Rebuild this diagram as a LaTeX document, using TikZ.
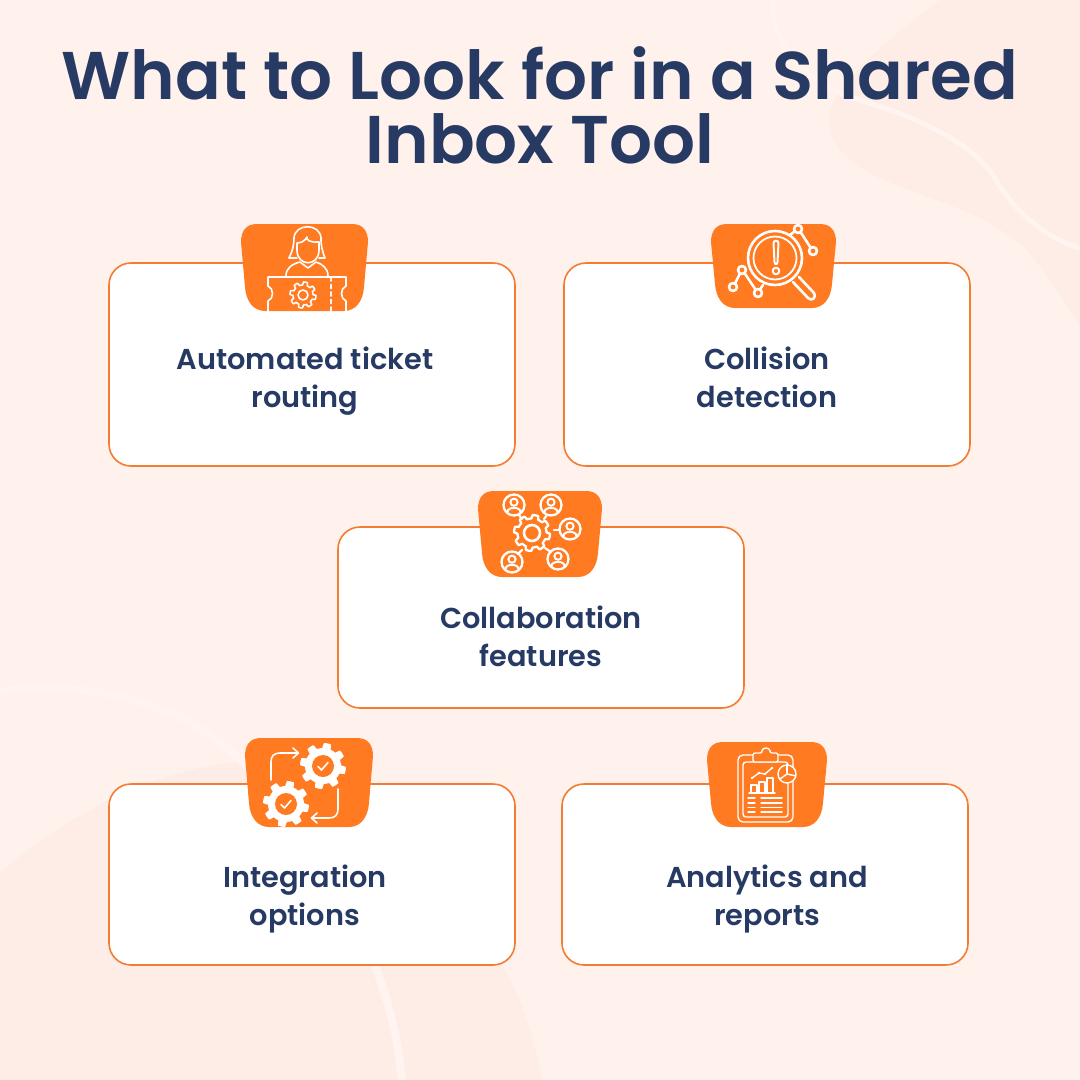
\documentclass[tikz,border=0pt]{standalone}
\usepackage{fontspec}
\setmainfont{Poppins}
\newfontfamily\semif{Poppins SemiBold}
\definecolor{bgbase}{HTML}{FFF1EC}
\definecolor{bgblob}{HTML}{FEECE6}
\definecolor{bgline}{HTML}{FFF4F0}
\definecolor{navy}{HTML}{263A63}
\definecolor{orng}{HTML}{FF7A20}
\definecolor{edge}{HTML}{F47C32}
\tikzset{
  cardbox/.style={draw=edge,line width=1.6pt,fill=white,rounded corners=22pt,inner sep=0pt,minimum width=406pt},
  cardtext/.style={text=navy,font=\fontsize{28.8}{38}\selectfont\semif,align=center,inner sep=0pt,anchor=center},
  thin ico/.style={draw=white,line width=1.6pt,line cap=round,line join=round,fill=none},
  thick ico/.style={draw=white,line width=2.6pt,line cap=round,line join=round,fill=none}
}
\newcommand{\tabblob}[4]{%
  \fill[orng] ({#1+16},#3) -- ({#2-16},#3)
   .. controls ({#2-5},#3) and (#2,{#3+7}) .. (#2,{#3+18})
   -- ({#2-4},{#4-24})
   .. controls ({#2-5},{#4-9}) and ({#2-13},#4) .. ({#2-24},#4)
   -- ({#1+24},#4)
   .. controls ({#1+13},#4) and ({#1+5},{#4-9}) .. ({#1+4},{#4-24})
   -- (#1,{#3+18})
   .. controls (#1,{#3+7}) and ({#1+5},#3) .. ({#1+16},#3) -- cycle;}
\newcommand{\gearpath}[6][]{%
  \path[#1,shift={(#2,#3)}] plot[domain=0:360,samples=145] (\x:{#4-#5*(1-min(1,max(0,0.5+1.5*sin(#6*\x))))}) -- cycle;}
\newcommand{\personico}[2]{%
  \draw[thick ico,line width=2.3pt] (#1,#2) circle (10.5);
  \draw[thick ico,line width=2pt] (#1,{#2-2.8}) circle (3.6);
  \draw[thick ico,line width=2pt] ({#1-6.5},{#2+7}) .. controls ({#1-6.5},{#2+1.5}) and ({#1+6.5},{#2+1.5}) .. ({#1+6.5},{#2+7});}
\newcommand{\checkgear}[2]{%
  \gearpath[fill=white]{#1}{#2}{23}{5}{8}
  \fill[orng] (#1,#2) circle (11);
  \draw[thick ico,line width=1.6pt] ({#1-5},{#2+0.5}) -- ({#1-1.5},{#2+4}) -- ({#1+5},{#2-3.5});}
\begin{document}
\begin{tikzpicture}[x=1pt,y=-1pt]
\useasboundingbox (0,0) rectangle (1080,1080);
\fill[bgbase] (0,0) rectangle (1080,1080);
\begin{scope}
\clip (0,0) rectangle (1080,1080);
% top right blob
\fill[bgblob] (940,0) .. controls (900,30) and (850,70) .. (832,105)
  .. controls (822,135) and (840,160) .. (880,178)
  .. controls (930,200) and (1000,215) .. (1035,260)
  .. controls (1055,285) and (1070,310) .. (1080,325) -- (1080,0) -- cycle;
\draw[bgline,line width=5pt] (773,0) .. controls (770,40) and (800,78) .. (850,97)
  .. controls (900,112) and (965,135) .. (993,175)
  .. controls (1015,215) and (1050,240) .. (1085,250);
% bottom left blob
\fill[bgblob] (0,873) .. controls (60,820) and (150,770) .. (240,762)
  .. controls (350,790) and (450,880) .. (503,967)
  .. controls (525,1005) and (535,1045) .. (543,1085) -- (0,1085) -- cycle;
\draw[bgline,line width=8pt] (-5,692) .. controls (70,680) and (170,695) .. (232,752)
  .. controls (310,820) and (395,960) .. (402,1085);
\end{scope}
% title
\node[text=navy,font=\fontsize{67.5}{64}\selectfont\semif,align=center,inner sep=0pt] (title) at (540,105.5)
  {What to Look for in a Shared\\Inbox Tool};
% cards
\node[cardbox,minimum height=203pt] (card1) at (312,364.5) {};
\node[cardbox,minimum height=203pt] (card2) at (767,364.5) {};
\node[cardbox,minimum height=181pt] (card3) at (541,617.5) {};
\node[cardbox,minimum height=181pt] (card4) at (312,874.5) {};
\node[cardbox,minimum height=181pt] (card5) at (765,874.5) {};
\node[cardtext] (text1) at (305,381) {\strut Automated ticket\\\strut routing};
\node[cardtext] (text2) at (767,381) {\strut Collision\\\strut detection};
\node[cardtext] (text3) at (541,640) {\strut Collaboration\\\strut features};
\node[cardtext] (text4) at (305,899) {\strut Integration\\\strut options};
\node[cardtext] (text5) at (767,899) {\strut Analytics and\\\strut reports};
% tabs
\tabblob{241}{368}{224}{311}
\tabblob{711}{836}{224}{308}
\tabblob{478}{602}{491}{577}
\tabblob{245}{373}{738}{827}
\tabblob{707}{827}{742}{827}
% icon 1
\begin{scope}[thin ico]
\draw (289,258) .. controls (293,250) and (294,244) .. (294,238) .. controls (295,223) and (320,223) .. (321,238) .. controls (321,246) and (322,250) .. (325,258) -- (319,258);
\draw (289,258) -- (297,258);
\draw (297,243) -- (297,250) .. controls (297,267) and (319,267) .. (319,250) -- (319,242) .. controls (312,243) and (305,240) .. (307,237) .. controls (305,241) and (301,243) .. (297,243);
\draw (286,276) .. controls (286,268) and (292,264) .. (300,262) -- (308,268) -- (316,262) .. controls (322,264) and (328,268) .. (328,276);
\draw (268,311) -- (268,301) .. controls (274,299) and (274,288) .. (268,286) -- (268,277) -- (346,277) -- (346,286) .. controls (340,288) and (340,299) .. (346,301) -- (346,311);
\draw[dash pattern=on 4pt off 3.5pt] (331,277) -- (331,311);
\gearpath[draw=white]{303}{295}{13}{3}{8}
\draw (303,295) circle (5);
\end{scope}
% icon 2
\begin{scope}[thick ico]
\draw (775,258) circle (27);
\draw[line width=1.8pt] (775,258) circle (21.5);
\draw[line width=2pt] (773.5,243) .. controls (773.5,240) and (778.5,240) .. (778.5,243) -- (777.5,262) .. controls (777,265) and (775,265) .. (774.5,262) -- cycle;
\draw[line width=2pt] (776,271) circle (3.3);
\draw (793,282) -- (808,298) .. controls (812,302) and (817,297) .. (814,293) -- (799,277);
\draw (733,287) circle (4);
\draw (742,270) circle (4);
\draw (758,293) circle (4);
\draw (798,229) circle (4);
\draw (813,251) circle (4);
\draw (735,283.5) -- (740,273.5);
\draw (744.5,273) -- (755.5,289.5);
\draw (760,289.5) -- (763,285);
\draw (800.5,232) -- (810.5,247.5);
\draw (794.5,231.5) -- (790,235);
\end{scope}
% icon 3
\gearpath[draw=white,line width=2.3pt,line join=round]{532}{533}{18}{3.5}{8}
\draw[thick ico] (532,533) circle (8);
\personico{514}{505}
\personico{551}{505}
\personico{570}{529}
\personico{558}{559}
\personico{512}{562}
\begin{scope}[thick ico,line width=2.2pt]
\draw (519,515) -- (522,519);
\draw (547,515) -- (544,519);
\draw (554,530) -- (559,530);
\draw (545,548) -- (551,552);
\draw (518,554) -- (522,550);
\end{scope}
% icon 4
\checkgear{323}{766}
\checkgear{286}{804}
\begin{scope}[thick ico,line width=1.6pt]
\draw (271,780) -- (271,762) .. controls (271,756) and (274,753) .. (280,753) -- (298,753);
\draw (293,748) -- (298.5,753) -- (293,758);
\draw (338,789) -- (338,809) .. controls (338,815) and (335,818) .. (329,818) -- (312,818);
\draw (317,813) -- (311.5,818) -- (317,823);
\end{scope}
% icon 5
\begin{scope}[thin ico,line width=1.4pt]
\draw[rounded corners=5pt] (738,755) rectangle (793,822);
\draw[rounded corners=3pt] (743,762) rectangle (788,817);
\draw[fill=orng,rounded corners=2pt] (753,753) -- (762,753) .. controls (762,747) and (770,747) .. (770,753) -- (778,753) -- (778,762) -- (753,762) -- cycle;
\draw[fill=orng] (787,774) circle (9);
\draw (787,774) -- (787,765);
\draw (787,774) -- (796,776) ;
\draw (787,774) -- (780,779);
\draw (749,793) -- (775,793);
\draw (751,793) -- (751,785) -- (757,785) -- (757,793);
\draw (759,793) -- (759,782) -- (765,782) -- (765,793);
\draw (767,793) -- (767,778) -- (773,778) -- (773,793);
\draw (752,778) -- (759,773) -- (765,774) -- (772,768);
\fill[white] (752,778) circle (1.4) (759,773) circle (1.4) (765,774) circle (1.4) (772,768) circle (1.4);
\draw (748,798) -- (755,798) (761,798) -- (782,798);
\draw (748,803) -- (755,803) (761,803) -- (782,803);
\draw (748,807.5) -- (755,807.5) (761,807.5) -- (782,807.5);
\draw (748,812) -- (755,812) (761,812) -- (782,812);
\end{scope}
\end{tikzpicture}
\end{document}
